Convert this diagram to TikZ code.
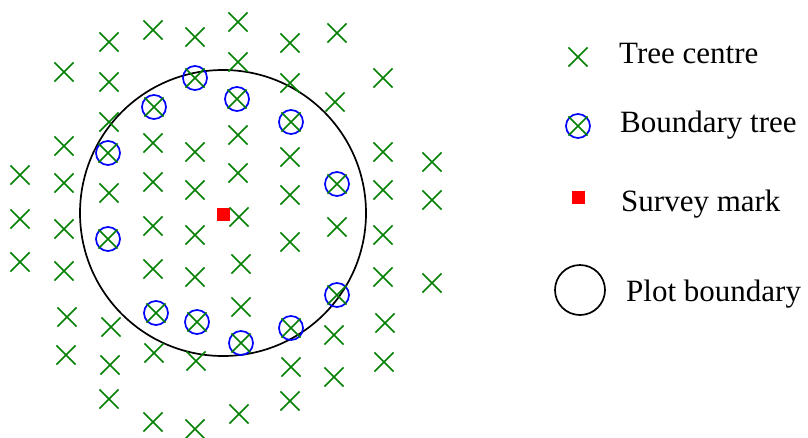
\documentclass[tikz,border=0pt]{standalone}
\usepackage{fontspec}
\setmainfont{Liberation Serif}
\usetikzlibrary{shapes.misc}
\definecolor{treegreen}{RGB}{0,128,0}
\definecolor{bblue}{RGB}{0,0,255}
\definecolor{mred}{RGB}{255,0,0}
\tikzset{
  tree/.style={cross out, draw=treegreen, line width=1.7pt, minimum size=17.5pt, inner sep=0pt},
  btree/.style={circle, draw=bblue, line width=1.7pt, minimum size=24pt, inner sep=0pt},
  survey/.style={rectangle, fill=mred, minimum size=13pt, inner sep=0pt},
  plot/.style={circle, draw=black, line width=1.7pt, inner sep=0pt},
  legtext/.style={anchor=base west, inner sep=0pt, font=\fontsize{31}{36}\selectfont}
}
\begin{document}
\begin{tikzpicture}[x=1pt,y=-1pt]
\useasboundingbox (0,0) rectangle (808,437);
% plot boundary and survey mark
\node[plot, minimum size=286pt] (plotb) at (223,213) {};
\node[survey] (sm) at (223,214) {};
% tree centres
\foreach \p [count=\i] in {
  (20,175),(20,219),(20,262),
  (64,72),(64,146),(64,183),(64,229),(64,271),(67,317),(66,355),
  (109,42),(109,82),(109,122),(109,193),(111,327),(110,365),(109,399),
  (153,30),(153,143),(153,182),(153,226),(153,269),(154,353),(153,422),
  (195,37),(195,152),(195,190),(195,235),(195,277),(196,361),(195,429),
  (238,22),(238,62),(238,135),(238,173),(239,217),(241,264),(241,307),(239,414),
  (290,43),(290,83),(290,157),(290,195),(290,242),(291,367),(290,401),
  (337,33),(335,102),(337,227),(334,335),(334,377),
  (383,78),(383,152),(383,190),(383,235),(383,277),(385,323),(384,362),
  (432,162),(432,200),(432,283)}
  \node[tree] (t\i) at \p {};
% boundary trees
\foreach \p [count=\i] in {
  (195,78),(154,107),(237,99),(291,122),(108,153),(337,184),
  (108,239),(337,295),(156,313),(197,322),(291,328),(241,343)}
  {\node[btree] (b\i) at \p {};
   \node[tree] (bx\i) at \p {};}
% legend
\node[tree] (lt) at (578,57) {};
\node[legtext] (ltt) at (619,63.3) {Tree centre};
\node[btree] (lb) at (578,126) {};
\node[tree] (lbx) at (578,126) {};
\node[legtext] (lbt) at (620,132.7) {Boundary tree};
\node[survey] (ls) at (578,197) {};
\node[legtext] (lst) at (621,211) {Survey mark};
\node[plot, minimum size=50pt] (lp) at (580,290) {};
\node[legtext] (lpt) at (626,301.7) {Plot boundary};
\end{tikzpicture}
\end{document}
